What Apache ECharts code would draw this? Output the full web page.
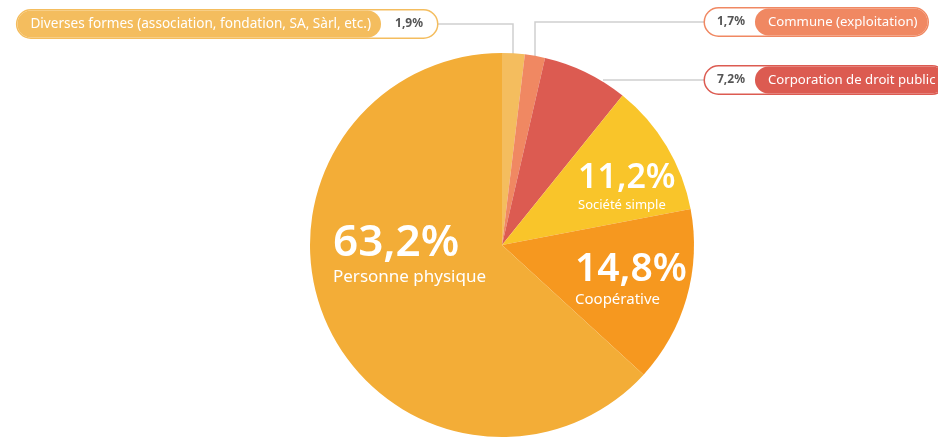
<!DOCTYPE html>
<html>
<head>
<meta charset="utf-8">
<script src="https://cdn.jsdelivr.net/npm/echarts@6/dist/echarts.min.js"></script>
<style>
  html, body { margin: 0; padding: 0; background: #fff; }
  #chart { width: 938px; height: 441px; }
</style>
</head>
<body>
<div id="chart"></div>
<script>
// Forme juridique - parts en %
const categories = [
  'Diverses formes (association, fondation, SA, Sàrl, etc.)',
  'Commune (exploitation)',
  'Corporation de droit public',
  'Société simple',
  'Coopérative',
  'Personne physique'
];
const shares = [1.9, 1.7, 7.2, 11.2, 14.8, 63.2];

const colors = ['#F4BD5E', '#F08862', '#DC5B51', '#F9C52A', '#F6981F', '#F3AD37'];
const FONT = '"Noto Sans", "Open Sans", sans-serif';

const fmt = v => v.toFixed(1).replace('.', ',') + '%';

// placement of each label (anchor point, alignment, callout line)
const placements = [
  { x: 437, y: 24, align: 'right', line: [[513, 54], [513, 24], [437, 24]] },
  { x: 705, y: 22, align: 'left', line: [[535, 56], [535, 22], [705, 22]] },
  { x: 705, y: 80, align: 'left', line: [[603, 80], [650, 80], [705, 80]] },
  { x: 578, y: 186, align: 'left' },
  { x: 575, y: 279, align: 'left' },
  { x: 333, y: 253, align: 'left' }
];

function pillLabel(color, valueFirst, size, valPad) {
  return {
    show: true,
    position: 'outside',
    formatter: p => valueFirst
      ? '{val|' + fmt(p.value) + '}{name|' + p.name + '}'
      : '{name|' + p.name + '}{val|' + fmt(p.value) + '}',
    backgroundColor: '#fff',
    borderColor: color,
    borderWidth: 1.5,
    borderRadius: 15,
    padding: 0,
    rich: {
      name: {
        color: '#fff', fontFamily: FONT, fontSize: size,
        backgroundColor: color, borderRadius: 14,
        padding: [0, 10, 0, 13], height: 27, lineHeight: 27
      },
      val: {
        color: '#555', fontFamily: FONT, fontSize: 12, fontWeight: 'bold',
        padding: valPad, height: 27, lineHeight: 27
      }
    }
  };
}

function bigLabel(pct, name, lh1, lh2) {
  return {
    show: true,
    position: 'inside',
    formatter: p => '{pct|' + fmt(p.value) + '}\n{name|' + p.name + '}',
    align: 'left',
    rich: {
      pct: { color: '#fff', fontFamily: FONT, fontSize: pct, fontWeight: 600, lineHeight: lh1, align: 'left' },
      name: { color: '#fff', fontFamily: FONT, fontSize: name, lineHeight: lh2, align: 'left' }
    }
  };
}

const labels = [
  pillLabel(colors[0], false, 13.6, [0, 14, 0, 14]),
  pillLabel(colors[1], true, 13.2, [0, 10, 0, 12]),
  pillLabel(colors[2], true, 13.2, [0, 10, 0, 12]),
  bigLabel(34, 13, 38, 16),
  bigLabel(39, 15, 42, 18),
  bigLabel(44, 17, 48, 20)
];

const chart = echarts.init(document.getElementById('chart'));
chart.setOption({
  animation: false,
  series: [{
    type: 'pie',
    center: [502, 245],
    radius: 192,
    startAngle: 90,
    clockwise: true,
    avoidLabelOverlap: false,
    emphasis: { disabled: true },
    labelLine: { show: true, lineStyle: { color: '#cfcfcf', width: 1.5 }, length: 10, length2: 10 },
    data: categories.map((name, i) => ({
      name: name,
      value: shares[i],
      itemStyle: { color: colors[i] },
      label: labels[i],
      labelLine: { show: i < 3 }
    })),
    labelLayout: function (params) {
      const pl = placements[params.dataIndex];
      const out = { x: pl.x, y: pl.y, align: pl.align, verticalAlign: 'middle' };
      if (pl.line) out.labelLinePoints = pl.line;
      return out;
    }
  }]
});
</script>
</body>
</html>
